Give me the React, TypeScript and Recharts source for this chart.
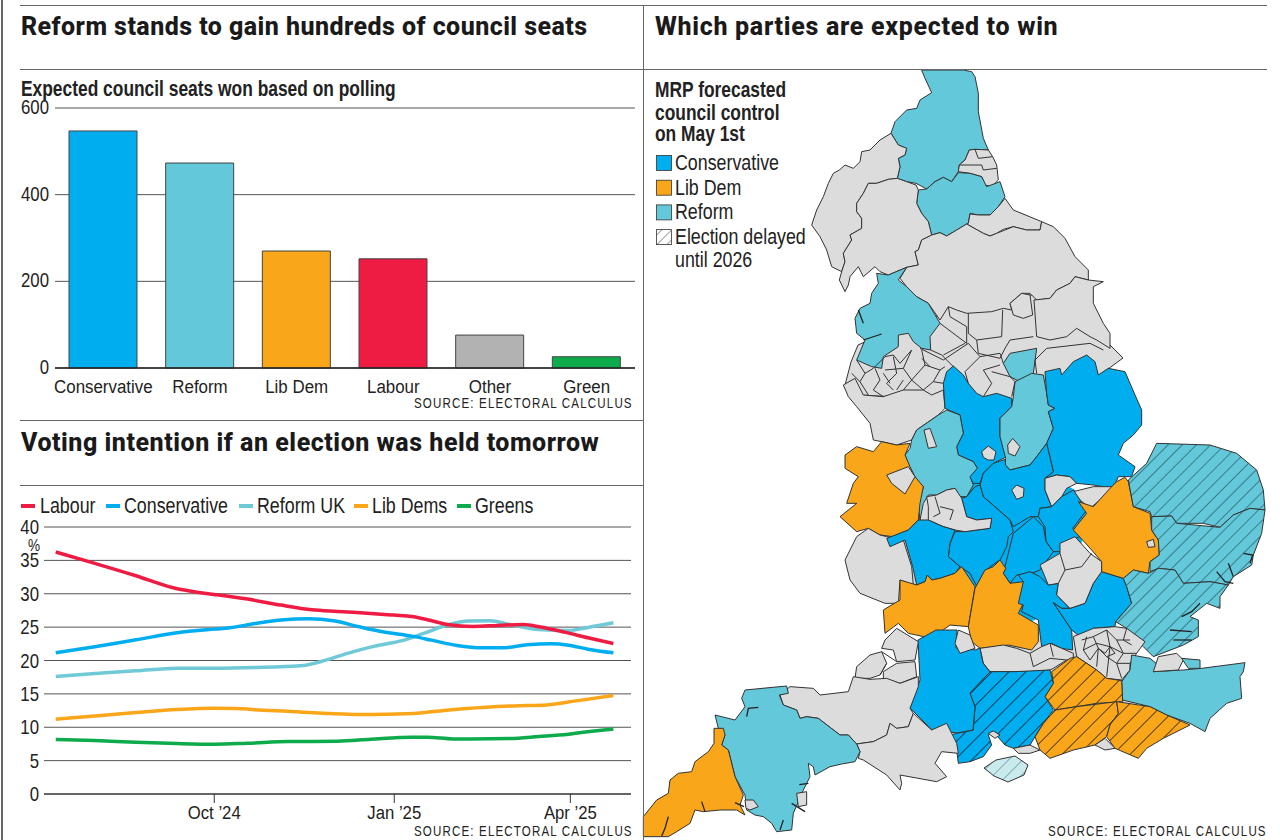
import React from "react";
import { BarChart, Bar, Cell, LineChart, Line, XAxis, YAxis, CartesianGrid } from "recharts";

const BODY = "'Liberation Sans', sans-serif";
const HEAVY = "Roboto, 'Liberation Sans', sans-serif";

const BLUE = "#00aeef";
const TEAL = "#63c8d9";
const ORANGE = "#f9a61a";
const RED = "#ee1c43";
const GREY = "#b2b2b2";
const GREEN = "#0dab4b";
const LAND = "#dcdcdc";

// seats chart
const seatParties = ["Conservative", "Reform", "Lib Dem", "Labour", "Other", "Green"];
const seatValues = [547, 473, 270, 252, 76, 26];
const seatColors = [BLUE, TEAL, ORANGE, RED, GREY, GREEN];
const seatTicks = [0, 200, 400, 600];

// polling chart: days counted from 1 Oct 2024
const labourDays = [-81, -61, -40, -21, -8, 0, 17, 34, 50, 63, 80, 92, 101, 109, 120, 132, 145, 158, 166, 179, 191, 204];
const labourPct = [36.25, 34.55, 32.7, 30.9, 30.2, 29.9, 29.2, 28.3, 27.6, 27.35, 27.05, 26.8, 26.6, 26.1, 25.35, 25.1, 25.25, 25.4, 25.05, 24.25, 23.4, 22.55];
const consDays = [-81, -61, -40, -19, 0, 8, 21, 34, 48, 61, 74, 86, 101, 111, 124, 137, 147, 160, 172, 181, 191, 204];
const consPct = [21.15, 22.05, 23.1, 24.15, 24.7, 24.9, 25.55, 26.05, 26.25, 25.95, 25.05, 24.3, 23.65, 23.05, 22.25, 21.9, 21.9, 22.35, 22.5, 22.3, 21.7, 21.15];
const reformDays = [-81, -61, -40, -19, 0, 21, 44, 57, 69, 82, 97, 107, 120, 130, 141, 151, 166, 181, 191, 204];
const reformPct = [17.6, 18.05, 18.45, 18.85, 18.85, 18.95, 19.2, 20.05, 21.15, 22.15, 23.05, 24.05, 25.4, 25.9, 25.95, 25.4, 24.65, 24.5, 24.95, 25.65];
const libDays = [-81, -61, -40, -19, 0, 11, 25, 44, 59, 74, 88, 105, 120, 139, 153, 170, 185, 204];
const libPct = [11.2, 11.7, 12.2, 12.65, 12.85, 12.8, 12.55, 12.3, 12.05, 11.9, 11.95, 12.15, 12.6, 13, 13.2, 13.35, 13.95, 14.75];
const greenDays = [-81, -61, -40, -19, 0, 17, 38, 63, 80, 101, 109, 122, 151, 166, 181, 193, 204];
const greenPct = [8.15, 8, 7.75, 7.55, 7.45, 7.6, 7.85, 7.9, 8.2, 8.5, 8.5, 8.25, 8.3, 8.6, 8.95, 9.4, 9.75];
const pollTicks = [0, 5, 10, 15, 20, 25, 30, 35, 40];
const monthTicks = [0, 92, 182];
const monthLabels = ["Oct ’24", "Jan ’25", "Apr ’25"];

const zip = (days: number[], pct: number[]) => days.map((day, i) => ({ day, value: pct[i] }));

const pollSeries = [
  { name: "Labour", color: RED, data: zip(labourDays, labourPct) },
  { name: "Conservative", color: BLUE, data: zip(consDays, consPct) },
  { name: "Reform UK", color: "#6fc9d6", data: zip(reformDays, reformPct) },
  { name: "Lib Dems", color: ORANGE, data: zip(libDays, libPct) },
  { name: "Greens", color: GREEN, data: zip(greenDays, greenPct) },
];
const drawOrder = [2, 1, 0, 3, 4];

const mapLegend = [
  { label: "Conservative", fill: BLUE },
  { label: "Lib Dem", fill: ORANGE },
  { label: "Reform", fill: TEAL },
  { label: "Election delayed", fill: "url(#hatchKey)" },
];

// map outlines, traced per sheet: north, midlands, south west, south east, page
type Sheet = [number, number, number];
const N: Sheet = [810, 70, 3];
const M: Sheet = [840, 340, 3];
const W: Sheet = [640, 620, 3];
const E: Sheet = [950, 440, 3];
const P: Sheet = [0, 0, 1];

const area = (sheet: Sheet, fill: string, pts: string) => ({ sheet, fill, pts });

const mapAreas = [
  // metropolitan north, sits under its neighbours
  area(P, LAND, "851,362 858,345 880,335 935,318 948,300 1020,295 1060,295 1110,345 1123,358 1100,375 1030,400 950,400 860,395 845,385"),
  // north
  area(N, TEAL, "335,0 345,25 365,68 330,90 320,115 290,120 255,155 243,190 265,225 290,235 285,255 265,265 270,290 262,325 290,335 318,340 350,357 375,335 400,322 425,335 445,305 448,285 465,270 478,240 495,238 535,240 520,205 505,125 505,70 495,20 485,5 460,0"),
  area(N, LAND, "465,270 478,240 495,238 535,240 548,260 560,285 565,330 545,350 525,345 515,320 480,310 445,305 448,285"),
  area(N, TEAL, "325,360 350,357 375,335 400,322 425,335 445,308 480,310 515,320 530,350 570,335 585,380 565,410 540,435 505,435 480,430 475,460 440,480 410,498 390,488 365,495 355,455 335,430 320,400"),
  area(N, LAND, "480,432 505,435 540,435 565,410 585,385 610,420 695,455 690,480 650,480 610,470 580,478 560,490 540,498 520,490 470,462 475,460"),
  area(N, LAND, "243,190 265,225 290,235 285,255 265,265 270,290 262,325 235,328 200,340 175,340 160,370 140,400 140,425 155,445 155,475 120,495 125,510 100,550 105,575 95,605 65,590 50,540 30,500 5,465 20,420 40,380 55,340 70,310 88,300 105,285 130,295 150,275 155,245 180,240 210,210"),
  area(N, LAND, "262,325 290,335 318,345 325,360 320,400 335,430 355,455 365,495 335,510 325,540 315,545 325,585 290,592 235,615 210,605 195,590 160,620 145,590 120,620 115,645 105,665 88,630 95,605 105,575 100,550 125,510 120,495 155,475 155,445 140,425 140,400 160,370 175,340 200,340 235,328"),
  area(N, LAND, "365,495 390,488 410,498 440,480 470,462 520,490 540,498 560,490 610,470 650,480 690,480 695,455 730,470 765,505 795,560 835,600 835,630 795,620 780,640 740,660 720,685 680,690 660,670 635,670 600,700 605,720 580,715 545,725 470,730 440,720 415,710 390,750 355,700 320,680 290,650 270,625 290,592 325,585 315,545 325,540 335,510"),
  area(N, LAND, "835,630 880,635 850,650 850,700 880,760 900,790 900,835 860,810 840,800 800,775 770,800 720,810 680,800 672,690 720,685 740,660 780,640 795,620"),
  area(N, LAND, "600,700 635,670 660,675 668,735 640,745 610,735"),
  area(N, TEAL, "200,610 235,615 290,592 265,630 290,650 320,680 355,700 390,760 360,800 362,840 335,835 310,815 295,790 265,795 265,830 220,860 215,895 185,890 140,870 165,810 140,790 135,745 150,715 180,700 185,670 205,640"),
  // filler under the shared inland borders
  { sheet: P, fill: "filler-grey", pts: "880,470 925,455 985,540 925,595 885,590" },
  { sheet: P, fill: "filler-blue", pts: "925,530 960,480 985,470 1040,470 1075,490 1090,520 1075,560 1060,590 1035,620 1000,630 960,610 925,580" },
  { sheet: P, fill: "filler-grey", pts: "985,645 1040,630 1130,640 1135,720 1060,700 990,690" },
  // midlands
  area(M, TEAL, "490,70 510,40 590,25 580,100 540,125 510,110"),
  area(M, LAND, "10,135 45,115 70,165 130,170 190,150 250,150 275,165 310,150 315,205 295,225 230,270 215,300 170,315 125,305 100,300 90,250 50,200 25,170"),
  area(M, BLUE, "340,78 370,105 385,130 410,160 430,170 470,160 515,175 515,200 480,235 480,290 500,350 460,370 430,400 420,430 400,430 388,410 412,385 400,365 355,345 350,320 370,280 360,225 315,205 310,130 320,95"),
  area(M, LAND, "425,335 445,318 468,335 462,360 445,360 430,352"),
  area(M, TEAL, "520,170 525,125 575,100 610,105 620,160 625,195 645,205 625,215 640,265 620,310 590,350 570,375 510,390 495,375 497,355 480,290 480,235 515,200"),
  area(M, LAND, "503,315 518,295 540,320 525,348 505,340"),
  area(M, BLUE, "615,95 660,85 665,105 700,65 740,45 765,65 775,105 805,85 855,95 885,165 905,210 905,255 880,285 850,310 835,345 885,380 875,410 835,410 820,445 760,435 710,430 690,410 650,405 615,415 640,395 620,310 640,265 625,215 645,205 625,195 620,160"),
  area(M, BLUE, "420,435 430,400 460,370 495,358 497,375 510,390 570,375 590,350 620,310 640,395 615,415 615,450 635,500 600,505 595,530 570,530 520,560 510,540 470,505 430,470"),
  area(M, LAND, "515,450 530,435 552,445 550,470 530,478"),
  area(M, LAND, "615,415 650,405 690,410 710,430 680,445 665,470 635,500 615,450"),
  area(M, LAND, "700,455 760,440 815,440 815,475 780,480 750,505 720,480"),
  area(M, BLUE, "635,500 665,470 700,450 720,480 740,510 698,565 720,590 690,600 660,635 640,635 618,605 615,560 595,530 600,505"),
  area(M, BLUE, "380,470 405,440 420,435 430,470 470,505 510,540 520,575 505,590 500,620 480,660 450,680 430,700 410,738 390,700 360,680 325,650 330,610 345,575 375,575 410,570 450,565 455,535 410,540 380,530 365,475"),
  area(M, TEAL, "215,300 230,270 295,225 320,210 360,225 370,280 350,320 355,345 400,365 412,385 390,410 400,435 380,470 360,470 345,445 320,450 290,465 265,465 250,490 240,540 235,500 250,440 220,410 195,345 210,325"),
  area(M, LAND, "252,270 270,265 290,320 265,325"),
  area(M, LAND, "260,470 290,465 320,450 345,445 365,475 380,530 410,540 455,535 450,565 410,570 375,575 345,570 310,560 265,540 265,500"),
  area(M, ORANGE, "15,345 50,320 100,335 125,305 170,315 210,310 195,345 210,380 225,410 250,440 240,490 235,540 205,570 160,590 120,585 85,565 50,575 0,530 50,490 20,490 40,430 55,410 15,385"),
  area(M, LAND, "140,405 205,380 225,410 195,462 155,430"),
  area(M, LAND, "15,660 50,590 85,565 120,585 140,590 190,600 215,680 220,735 180,720 175,790 135,790 60,760 30,720"),
  area(M, BLUE, "140,595 205,570 235,540 265,540 310,560 345,570 330,610 325,650 360,680 345,700 300,715 275,720 262,705 255,725 230,735 218,680 195,600 150,620"),
  area(M, ORANGE, "130,810 180,780 180,720 230,735 255,725 262,705 275,720 300,715 345,700 365,680 405,740 385,860 330,855 275,895 205,880 175,850 135,880"),
  area(M, BLUE, "490,700 500,660 520,580 580,530 610,560 618,605 640,635 600,690 575,700 530,705 510,730"),
  area(M, ORANGE, "385,860 405,745 435,690 460,680 480,660 497,685 490,700 510,730 550,725 550,790 535,820 595,855 595,905 575,930 505,915 420,925 395,905"),
  // south east
  area(E, BLUE, "205,405 240,395 270,410 295,435 325,430 320,465 360,505 335,505 310,488 345,540 365,570 368,630 335,625 305,610 275,620 265,540 215,515 220,495 205,490 220,425"),
  area(E, BLUE, "455,395 520,415 530,440 545,490 497,545 495,560 430,565 390,590 365,570 345,540 310,488 335,505 360,505 405,490 430,430"),
  area(E, LAND, "270,375 330,340 330,310 375,290 420,340 455,365 455,395 430,430 405,490 360,505 320,465 325,430 295,435"),
  area(E, ORANGE, "500,125 525,112 535,125 550,200 600,220 605,270 625,300 628,345 600,365 595,400 550,390 520,415 455,395 455,365 425,330 370,270 410,220 385,185 430,200 480,145"),
  area(E, LAND, "590,305 610,298 615,320 595,322"),
  area(E, "url(#hatchTeal)", "535,120 590,70 620,10 780,15 860,40 920,90 940,150 945,210 900,205 850,225 810,262 760,250 680,250 665,228 605,230 600,215 550,200"),
  area(E, "url(#hatchTeal)", "605,230 665,228 680,250 810,262 850,225 900,205 945,210 935,280 910,345 905,375 850,410 835,435 780,425 700,430 675,390 625,385 600,395 600,365 628,345 625,300 605,270"),
  area(E, "url(#hatchTeal)", "520,415 550,390 595,400 625,385 675,390 700,430 780,425 835,435 810,470 810,505 770,490 720,530 745,540 745,590 700,615 610,650 580,620 560,600 530,565 497,545 545,490 530,440"),
  area(E, LAND, "90,625 160,615 200,625 240,640 275,620 300,610 335,625 370,640 370,655 350,660 310,685 300,690 240,695 195,695 120,695 100,670"),
  area(E, LAND, "370,590 430,565 495,560 530,565 585,605 560,640 540,670 540,690 515,720 470,715 440,690 380,650 375,620"),
  area(E, TEAL, "545,645 600,655 630,680 610,695 700,690 755,685 885,668 880,695 870,710 875,775 830,790 780,835 765,875 720,850 650,825 600,800 518,780 515,725 540,690"),
  area(E, LAND, "610,695 625,650 680,640 700,660 685,690"),
  area(E, TEAL, "695,655 750,660 750,685 715,685"),
  area(E, "url(#hatchOrange)", "360,655 380,650 440,690 470,715 515,722 518,785 440,790 380,800 315,810 285,770 310,730 305,695"),
  area(E, "url(#hatchOrange)", "315,810 380,800 500,785 505,820 480,855 470,890 435,915 370,930 300,955 270,930 255,890 280,850"),
  area(E, "url(#hatchOrange)", "500,785 600,800 650,825 720,855 690,870 640,895 590,925 565,955 495,925 470,890 480,855 505,820"),
  area(E, LAND, "435,915 465,895 495,925 465,930"),
  area(E, "url(#hatchBlue)", "120,695 195,695 300,690 310,730 285,770 310,810 280,850 255,890 240,915 190,925 165,915 130,875 115,885 125,915 100,950 60,965 25,970 20,930 -20,890 20,880 70,870 75,800 60,760 105,710"),
  area(E, LAND, "115,880 130,873 150,885 135,895"),
  area(E, LAND, "190,925 240,915 270,930 240,940 205,940"),
  area(P, BLUE, "918,640 936,630 957,630 956,648 964,648 975,650 980,648 983,663 990,672 985,677 970,693 975,707 973,730 957,733 932,730 910,708 920,680"),
  area(E, LAND, "25,570 60,585 75,625 30,640 15,610"),
  area(P, "url(#hatchWight)", "984,768 996,760 1015,756 1028,765 1024,775 1008,782 994,776"),
  // south west
  area(W, LAND, "735,60 770,25 835,65 825,120 770,125 760,90 725,85"),
  area(W, LAND, "650,140 690,105 725,95 740,130 720,165 690,175 645,175"),
  area(W, LAND, "730,155 770,130 825,125 830,170 780,190 730,175"),
  area(W, LAND, "420,225 450,200 520,205 540,225 625,215 640,170 690,178 740,175 780,190 835,170 835,200 810,265 820,280 805,320 770,325 750,310 740,345 700,365 650,372 625,345 600,345 535,295 500,290 480,295 470,270 430,255"),
  area(W, LAND, "650,372 700,365 740,345 750,310 770,325 805,320 820,280 875,330 920,310 950,370 955,400 905,395 885,430 920,470 890,485 780,465 785,490 780,510 740,465 670,420 655,415 660,395"),
  area(W, TEAL, "315,210 440,198 445,220 418,225 430,255 470,270 480,295 500,290 535,295 600,345 625,345 650,372 660,395 645,425 605,432 570,440 525,465 520,440 505,430 510,470 490,510 460,580 455,630 410,635 395,610 370,590 345,585 320,570 315,525 285,470 265,390 245,375 255,345 235,325 225,285 285,300 315,260 305,235"),
  area(W, LAND, "315,540 340,540 355,560 330,570 318,565"),
  area(W, LAND, "470,520 500,515 500,555 475,560"),
  area(W, ORANGE, "222,325 250,325 255,345 245,375 265,390 285,470 310,525 300,555 315,585 290,570 240,570 190,575 165,570 150,610 110,635 85,650 10,650 10,590 50,540 85,520 90,480 115,460 155,455 165,425 205,395 222,370"),
];

// council boundaries inside the metropolitan areas
const mapLines = [
  { sheet: N, pts: "390,760 470,820" },
  { sheet: N, pts: "415,710 420,740 470,770 470,820" },
  { sheet: N, pts: "475,730 475,790 500,810 575,800 578,720" },
  { sheet: N, pts: "500,810 505,850 570,865 585,835 600,810 670,800" },
  { sheet: N, pts: "465,820 400,855" },
  { sheet: N, pts: "362,840 395,855 430,890" },
  { sheet: N, pts: "495,238 505,265 548,260" },
  { sheet: N, pts: "448,285 515,285 520,300 560,295" },
  { sheet: M, pts: "50,60 75,100 100,85 135,50" },
  { sheet: M, pts: "75,100 60,125 85,165" },
  { sheet: M, pts: "105,85 120,120 100,150 130,170" },
  { sheet: M, pts: "135,90 190,85 215,120 190,150" },
  { sheet: M, pts: "190,85 215,30" },
  { sheet: M, pts: "215,120 250,150" },
  { sheet: M, pts: "215,120 255,75 300,90 315,80" },
  { sheet: M, pts: "255,75 245,30" },
  { sheet: M, pts: "300,90 280,125 310,130" },
  { sheet: M, pts: "280,125 250,150" },
  { sheet: M, pts: "160,50 170,100 140,130 160,150" },
  { sheet: M, pts: "35,100 60,125" },
  { sheet: M, pts: "240,25 310,60 385,10" },
  { sheet: M, pts: "385,10 420,50 480,40 490,70" },
  { sheet: M, pts: "420,50 375,95 385,130" },
  { sheet: M, pts: "480,75 430,90 455,130 430,170" },
  { sheet: M, pts: "455,95 510,110 525,125 515,170" },
  { sheet: M, pts: "590,100 585,60 620,25" },
  { sheet: M, pts: "620,25 750,10 790,30" },
  { sheet: M, pts: "135,50 160,45 180,70 215,30" },
  { sheet: M, pts: "130,100 150,130" },
  { sheet: M, pts: "190,120 170,150" },
  { sheet: M, pts: "245,55 270,80" },
  { sheet: M, pts: "300,500 340,510 330,540" },
  { sheet: M, pts: "285,470 300,520 280,530" },
  { sheet: E, pts: "330,340 345,390 395,380 425,340" },
  { sheet: E, pts: "325,430 345,390" },
  { sheet: E, pts: "395,600 430,590 470,570 500,600 540,600" },
  { sheet: E, pts: "400,630 440,610 480,620 520,640 560,640" },
  { sheet: E, pts: "420,660 445,625 470,650 500,670 540,670" },
  { sheet: E, pts: "430,590 445,625 440,680" },
  { sheet: E, pts: "470,570 480,620 470,710" },
  { sheet: E, pts: "500,600 520,640 500,670 515,715" },
  { sheet: E, pts: "410,590 400,630 420,660" },
  { sheet: E, pts: "445,625 465,640 480,620 495,640 470,650" },
  { sheet: E, pts: "530,565 520,600 545,615" },
  { sheet: E, pts: "240,640 250,680 300,655 350,660" },
  { sheet: E, pts: "300,610 310,650" },
  { sheet: W, pts: "725,95 770,125" },
  { sheet: W, pts: "720,165 740,130" },
];

// estuaries drawn heavier along the coast
const mapInlets = [
  { sheet: E, pts: "800,395 825,425 850,430" },
  { sheet: E, pts: "835,370 850,410" },
  { sheet: E, pts: "880,340 908,345 900,370" },
  { sheet: E, pts: "750,490 725,515 695,530" },
  { sheet: E, pts: "660,570 725,575" },
  { sheet: E, pts: "670,600 725,600" },
  { sheet: W, pts: "85,590 75,625 65,648" },
  { sheet: W, pts: "320,290 325,265 355,262" },
  { sheet: W, pts: "478,494 505,490" },
  { sheet: W, pts: "455,550 495,575" },
  { sheet: W, pts: "430,600 420,630" },
  { sheet: W, pts: "185,545 195,575" },
  { sheet: W, pts: "285,548 312,560" },
  { sheet: N, pts: "145,720 160,760" },
  { sheet: N, pts: "160,810 215,792" },
];

const toPage = (sheet: Sheet, pts: string) =>
  pts
    .split(" ")
    .map((p) => {
      const [x, y] = p.split(",").map(Number);
      return `${sheet[0] + x / sheet[2]},${sheet[1] + y / sheet[2]}`;
    })
    .join(" ");

const text = (x: number, y: number, style: React.CSSProperties, content: string, key?: string) => (
  <div
    key={key}
    style={{ position: "absolute", left: x, top: y, whiteSpace: "nowrap", color: "#222", transformOrigin: "left top", ...style }}
  >
    {content}
  </div>
);

const titleStyle: React.CSSProperties = { fontFamily: HEAVY, fontWeight: 800, fontSize: 25, lineHeight: "28px", letterSpacing: 0.45, color: "#1a1a1a" };
const narrow: React.CSSProperties = { fontFamily: BODY, fontSize: 22, lineHeight: "24px", transform: "scaleX(0.81)" };
const narrowBold: React.CSSProperties = { ...narrow, fontWeight: 700, transform: "scaleX(0.79)" };
const source: React.CSSProperties = { fontFamily: BODY, fontSize: 15, lineHeight: "16px", letterSpacing: 1.5, transform: "scaleX(0.77)" };

const rule = (x: number, y: number, w: number, h: number, key: string) => (
  <div key={key} style={{ position: "absolute", left: x, top: y, width: w, height: h, background: "#666" }} />
);

function Hatch({ id, bg, line, gap, width }: { id: string; bg: string; line: string; gap: number; width: number }) {
  return (
    <pattern id={id} width={gap} height={gap} patternUnits="userSpaceOnUse" patternTransform="rotate(45)">
      <rect width={gap} height={gap} fill={bg} />
      <line x1={0} y1={0} x2={0} y2={gap} stroke={line} strokeWidth={width} />
    </pattern>
  );
}

// condensed tick labels: no condensed face is installed, so squeeze a regular one
function SqueezedTick(props: any) {
  const { x, y, payload, anchor, size, squeeze, dx = 0, dy, format } = props;
  return (
    <text
      transform={`translate(${x + dx},${y + dy}) scale(${squeeze},1)`}
      textAnchor={anchor}
      fill="#222"
      fontFamily={BODY}
      fontSize={size}
    >
      {format ? format(payload.value) : payload.value}
    </text>
  );
}

function SeatsChart() {
  const data = seatParties.map((name, i) => ({ name, value: seatValues[i] }));
  return (
    <div style={{ position: "absolute", left: 0, top: 0 }}>
      <BarChart width={643} height={420} data={data} margin={{ top: 108, right: 8, bottom: 0, left: 0 }}>
        <CartesianGrid vertical={false} stroke="#555" strokeWidth={1} />
        <XAxis
          dataKey="name"
          height={52}
          tickLine={false}
          axisLine={{ stroke: "#222", strokeWidth: 1.5 }}
          interval={0}
          tick={<SqueezedTick anchor="middle" size={19} squeeze={0.89} dy={17} />}
        />
        <YAxis
          width={55}
          domain={[0, 600]}
          ticks={seatTicks}
          axisLine={false}
          tickLine={false}
          tick={<SqueezedTick anchor="end" size={20} squeeze={0.84} dx={2} dy={6} />}
        />
        <Bar dataKey="value" barSize={68} stroke="#444" strokeWidth={1} isAnimationActive={false}>
          {data.map((d, i) => (
            <Cell key={d.name} fill={seatColors[i]} />
          ))}
        </Bar>
      </BarChart>
    </div>
  );
}

function PollChart() {
  return (
    <div style={{ position: "absolute", left: 0, top: 420 }}>
      <LineChart width={643} height={420} margin={{ top: 107, right: 12, bottom: 0, left: 0 }}>
        <CartesianGrid vertical={false} stroke="#555" strokeWidth={1} />
        <XAxis
          type="number"
          dataKey="day"
          domain={[-87, 213]}
          ticks={monthTicks}
          height={46}
          tickSize={9}
          axisLine={{ stroke: "#222", strokeWidth: 1.2 }}
          tickLine={{ stroke: "#333" }}
          tick={
            <SqueezedTick
              anchor="middle"
              size={19}
              squeeze={0.88}
              dy={14}
              format={(v: number) => monthLabels[monthTicks.indexOf(v)]}
            />
          }
          allowDataOverflow
        />
        <YAxis
          width={44}
          domain={[0, 40]}
          ticks={pollTicks}
          axisLine={false}
          tickLine={false}
          tick={<SqueezedTick anchor="end" size={20} squeeze={0.84} dx={3} dy={7} />}
        />
        {drawOrder.map((idx) => (
          <Line
            key={pollSeries[idx].name}
            data={pollSeries[idx].data}
            dataKey="value"
            name={pollSeries[idx].name}
            type="monotone"
            stroke={pollSeries[idx].color}
            strokeWidth={3.5}
            dot={false}
            isAnimationActive={false}
          />
        ))}
      </LineChart>
    </div>
  );
}

const fillOf = (fill: string) => (fill === "filler-grey" ? LAND : fill === "filler-blue" ? BLUE : fill);

function EnglandMap() {
  return (
    <svg width={1280} height={840} style={{ position: "absolute", left: 0, top: 0 }}>
      <defs>
        <Hatch id="hatchTeal" bg={TEAL} line="#1f4a52" gap={10} width={1.2} />
        <Hatch id="hatchBlue" bg={BLUE} line="#06314a" gap={12} width={1.8} />
        <Hatch id="hatchOrange" bg={ORANGE} line="#40300c" gap={12} width={1.8} />
        <Hatch id="hatchWight" bg="#c9ebee" line="#3c6a70" gap={10} width={1} />
        <Hatch id="hatchKey" bg="#fff" line="#333" gap={7} width={1} />
      </defs>
      {mapAreas.map((a, i) => (
        <polygon
          key={i}
          points={toPage(a.sheet, a.pts)}
          fill={fillOf(a.fill)}
          stroke={a.fill.startsWith("filler") ? "none" : "#333"}
          strokeWidth={1}
          strokeLinejoin="round"
        />
      ))}
      {mapLines.map((l, i) => (
        <polyline key={i} points={toPage(l.sheet, l.pts)} fill="none" stroke="#333" strokeWidth={1} />
      ))}
      {mapInlets.map((l, i) => (
        <polyline key={i} points={toPage(l.sheet, l.pts)} fill="none" stroke="#222" strokeWidth={1.3} />
      ))}
      {mapLegend.map((item, i) => (
        <rect key={item.label} x={656.5} y={155.5 + i * 24.7} width={15} height={15} fill={item.fill} stroke="#333" strokeWidth={0.8} />
      ))}
    </svg>
  );
}

export default function App() {
  return (
    <div style={{ position: "absolute", left: 0, top: 0, width: 1280, height: 840, background: "#fff", overflow: "hidden" }}>
      <SeatsChart />
      <PollChart />
      <EnglandMap />

      {rule(1, 0, 2, 840, "left")}
      {rule(20, 5, 1247, 1, "top")}
      {rule(20, 69, 1247, 1, "mid")}
      {rule(643, 5, 1, 835, "div")}
      {rule(20, 420, 623, 1, "r1")}
      {rule(20, 485, 623, 1, "r2")}

      {text(21, 13, titleStyle, "Reform stands to gain hundreds of council seats")}
      {text(655, 13, { ...titleStyle, letterSpacing: 0.7 }, "Which parties are expected to win")}
      {text(21, 429, { ...titleStyle, letterSpacing: 0.53 }, "Voting intention if an election was held tomorrow")}
      {text(21, 77, narrowBold, "Expected council seats won based on polling")}

      {text(414, 395, source, "SOURCE: ELECTORAL CALCULUS")}
      {text(414, 823, source, "SOURCE: ELECTORAL CALCULUS")}
      {text(1048, 823, source, "SOURCE: ELECTORAL CALCULUS")}

      {text(28, 537, { fontFamily: BODY, fontSize: 16, lineHeight: "18px", transform: "scaleX(0.85)" }, "%")}

      {pollSeries.map((s, i) => {
        const swatch = [21, 106, 239, 354, 457][i];
        const label = [40, 124, 257, 372, 475][i];
        return (
          <React.Fragment key={s.name}>
            <div style={{ position: "absolute", left: swatch, top: 504, width: 14, height: 3.5, background: s.color }} />
            {text(label, 494, narrow, s.name)}
          </React.Fragment>
        );
      })}

      {text(655, 78, narrowBold, "MRP forecasted")}
      {text(655, 101, narrowBold, "council control")}
      {text(655, 122, narrowBold, "on May 1st")}
      {mapLegend.map((item, i) => text(675, 151 + i * 24.7, narrow, item.label, item.label))}
      {text(675, 248, narrow, "until 2026")}
    </div>
  );
}
